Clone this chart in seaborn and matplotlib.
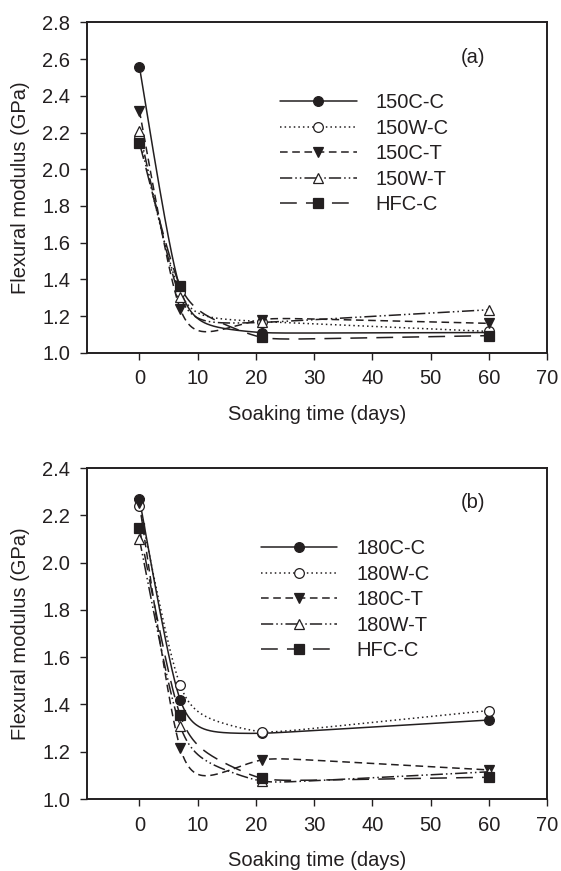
import numpy as np
import pandas as pd
import seaborn as sns
import matplotlib.pyplot as plt
from matplotlib.lines import Line2D

# soaking times (days)
days = [0, 7, 21, 60]

# panel (a) - flexural modulus (GPa)
a_labels = ['150C-C', '150W-C', '150C-T', '150W-T', 'HFC-C']
a_150CC = [2.56, 1.35, 1.11, 1.11]
a_150WC = [2.17, 1.33, 1.17, 1.116]
a_150CT = [2.32, 1.24, 1.18, 1.16]
a_150WT = [2.21, 1.305, 1.165, 1.234]
a_HFCC = [2.145, 1.364, 1.084, 1.093]

# panel (b) - flexural modulus (GPa)
b_labels = ['180C-C', '180W-C', '180C-T', '180W-T', 'HFC-C']
b_180CC = [2.27, 1.42, 1.278, 1.334]
b_180WC = [2.24, 1.482, 1.285, 1.374]
b_180CT = [2.25, 1.217, 1.165, 1.123]
b_180WT = [2.10, 1.309, 1.076, 1.115]
b_HFCC = [2.145, 1.355, 1.088, 1.092]

INK = '#231f20'
TENSION = 0.5
# line style / marker for the 5 series (same order in both panels)
styles = [
    dict(ls='-', marker='o', fc=INK),
    dict(ls=(0, (1, 2)), marker='o', fc='white'),
    dict(ls=(0, (5, 3)), marker='v', fc=INK),
    dict(ls=(0, (8, 2, 1, 2, 1, 2)), marker='^', fc='white'),
    dict(ls=(0, (11, 6)), marker='s', fc=INK),
]


def smooth(x, y, s=TENSION, num=400):
    # spline under tension through the measured points (drawing only)
    x = np.asarray(x, float)
    y = np.asarray(y, float)
    n = len(x)
    h = np.diff(x)
    d = np.diff(y) / h
    al = 1 / (s * s * h) - 1 / (s * np.sinh(s * h))
    be = np.cosh(s * h) / (s * np.sinh(s * h)) - 1 / (s * s * h)
    A = np.zeros((n, n))
    r = np.zeros(n)
    A[0, 0] = A[-1, -1] = 1
    for i in range(1, n - 1):
        A[i, i - 1] = al[i - 1]
        A[i, i] = be[i - 1] + be[i]
        A[i, i + 1] = al[i]
        r[i] = d[i] - d[i - 1]
    z = np.linalg.solve(A, r)
    xs = np.linspace(x[0], x[-1], num)
    k = np.clip(np.searchsorted(x, xs) - 1, 0, n - 2)
    hk = h[k]
    u = x[k + 1] - xs
    v = xs - x[k]
    ys = (z[k] * np.sinh(s * u) + z[k + 1] * np.sinh(s * v)) / (s * s * np.sinh(s * hk)) \
        + (y[k] - z[k] / s ** 2) * u / hk + (y[k + 1] - z[k + 1] / s ** 2) * v / hk
    return xs, ys


def panel(ax, series, labels, ylim, yticks, tag, leg_xy):
    handles = []
    for vals, lab, st in zip(series, labels, styles):
        xs, ys = smooth(days, vals)
        sns.lineplot(x=xs, y=ys, ax=ax, color=INK, linestyle=st['ls'],
                     lw=1.1, legend=False, sort=False)
        ax.plot(days, vals, linestyle='none', marker=st['marker'],
                markersize=7, markerfacecolor=st['fc'], markeredgecolor=INK,
                markeredgewidth=0.9, zorder=3)
        handles.append(Line2D([], [], color=INK, linestyle=st['ls'], lw=1.1,
                              marker=st['marker'], markersize=7,
                              markerfacecolor=st['fc'], markeredgecolor=INK,
                              markeredgewidth=0.9))
    ax.set_xlim(-9, 70)
    ax.set_ylim(*ylim)
    ax.set_xticks(range(0, 71, 10))
    ax.set_yticks(yticks)
    ax.set_yticklabels([f'{v:.1f}' for v in yticks])
    ax.set_xlabel('Soaking time (days)', fontsize=14.5, color=INK, labelpad=12)
    ax.set_ylabel('Flexural modulus (GPa)', fontsize=14.5, color=INK, labelpad=9)
    ax.tick_params(direction='out', length=5, width=1, colors=INK,
                   labelsize=14.5, pad=7)
    for sp in ax.spines.values():
        sp.set_visible(True)
        sp.set_linewidth(1.4)
        sp.set_color(INK)
    ax.text(0.84, 0.895, tag, transform=ax.transAxes, fontsize=14.5,
            color=INK, ha='center', va='center')
    ax.legend(handles, labels, loc='upper left', bbox_to_anchor=leg_xy,
              frameon=False, handlelength=3.8, handletextpad=0.95,
              labelspacing=0.32, borderpad=0, borderaxespad=0, numpoints=1,
              fontsize=14.5, labelcolor=INK)


sns.set_style('ticks')
plt.rcParams['font.family'] = ['Liberation Sans', 'DejaVu Sans']

fig = plt.figure(figsize=(5.61, 8.71), dpi=100)
ax1 = fig.add_axes([87 / 561, 1 - 352.7 / 871, 460 / 561, 330.2 / 871])
ax2 = fig.add_axes([87 / 561, 1 - 799 / 871, 460 / 561, 331 / 871])

panel(ax1, [a_150CC, a_150WC, a_150CT, a_150WT, a_HFCC], a_labels,
      (1.0, 2.8), np.arange(1.0, 2.81, 0.2), '(a)', (0.42, 0.785))
panel(ax2, [b_180CC, b_180WC, b_180CT, b_180WT, b_HFCC], b_labels,
      (1.0, 2.4), np.arange(1.0, 2.41, 0.2), '(b)', (0.378, 0.784))

fig.savefig('out.png', dpi=100)
